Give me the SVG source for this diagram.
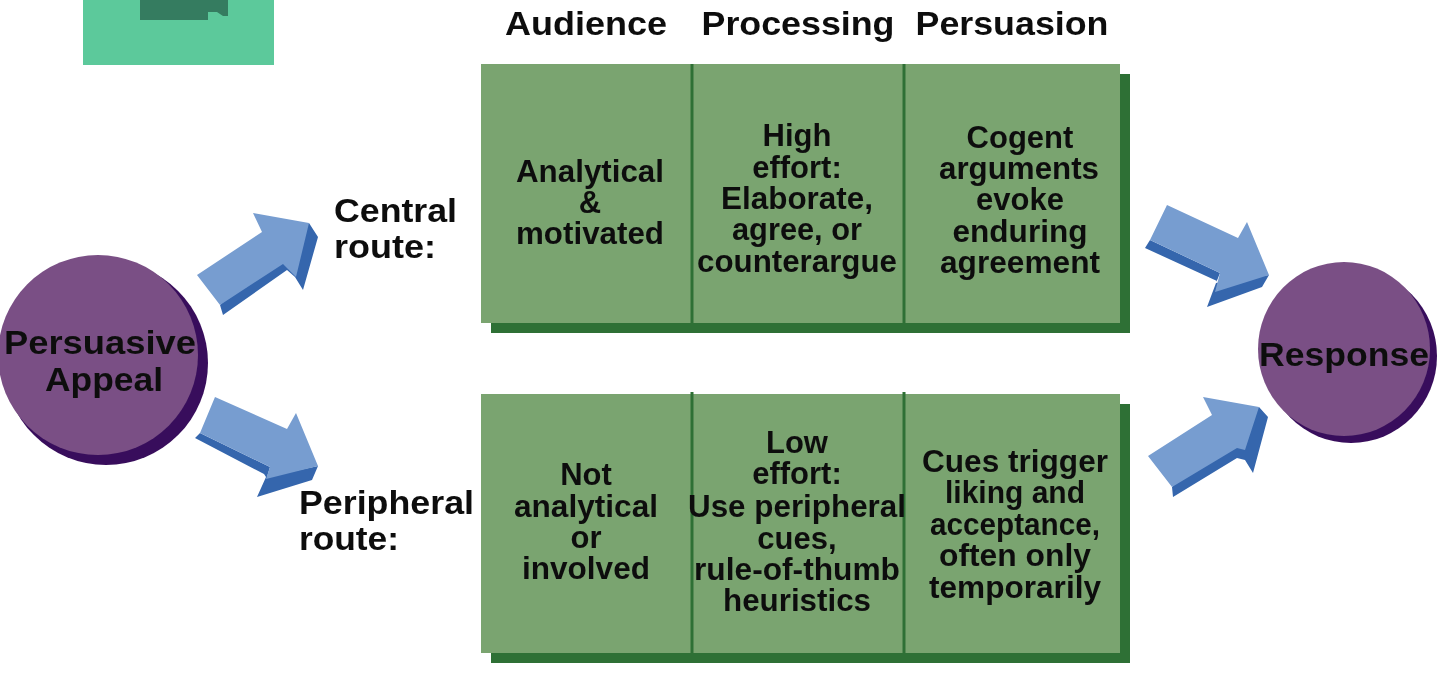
<svg xmlns="http://www.w3.org/2000/svg" width="1440" height="694" viewBox="0 0 1440 694">
<defs><filter id="soft" x="-5%" y="-5%" width="110%" height="110%"><feGaussianBlur stdDeviation="0.7"/></filter></defs>
<style>
text{font-family:"Liberation Sans",Arial,sans-serif;font-weight:700;font-size:31px;fill:#111;text-anchor:middle}
.l{text-anchor:start}
.big{font-size:34px}
.panel{fill:#7aa470}
.shadow{fill:#2e7034}
.div{stroke:#2e7034;stroke-width:3;fill:none}
.al{fill:#779dd0}
.ad{fill:#3566ad}
.cl{fill:#7a5085}
.cd{fill:#39105c}
</style>
<rect width="1440" height="694" fill="#fff"/>
<g filter="url(#soft)">
<g id="legend-box"><rect x="83" y="0" width="191" height="65" fill="#5cc99b"/><path d="M140 0H228V16H223L217 12H208V20H140Z" fill="#347c60"/></g>
<g id="connectors">
<g id="arrow-central"><path class="ad" d="M220 305L223 315L287 270L295 277L303 290L318 237L309 223Z"/><path class="al" d="M197 275L262 232L253 213L309 223L296 277L283 264L220 305Z"/></g>
<g id="arrow-peripheral"><path class="ad" d="M195 438L200 433L270 467L267 477L318 466L312 480L257 497L266 477L264 474Z"/><path class="al" d="M215 397L287 429L296 413L318 466L266 479L270 467L200 433Z"/></g>
<g id="arrow-central-out"><path class="ad" d="M1145 248L1150 240L1220 273L1216 283L1269 275L1262 287L1207 307L1216 283L1217 281Z"/><path class="al" d="M1167 205L1238 238L1247 222L1269 275L1215 292L1220 273L1150 240Z"/></g>
<g id="arrow-peripheral-out"><path class="ad" d="M1172 487L1173 497L1237 458L1245 460L1253 473L1268 417L1259 407Z"/><path class="al" d="M1148 456L1212 415L1203 397L1259 407L1245 450L1237 448L1172 487Z"/></g>
</g>
<g id="persuasive-appeal"><circle class="cd" cx="106" cy="363" r="102"/><circle class="cl" cx="98" cy="355" r="100"/><text class="big" x="100" y="354" textLength="192" lengthAdjust="spacingAndGlyphs">Persuasive</text><text class="big" x="104" y="391" textLength="118" lengthAdjust="spacingAndGlyphs">Appeal</text></g>
<g id="response"><ellipse class="cd" cx="1351" cy="356" rx="86" ry="87"/><ellipse class="cl" cx="1344" cy="349" rx="86" ry="87"/><text class="big" x="1344" y="366" textLength="170" lengthAdjust="spacingAndGlyphs">Response</text></g>
<g id="central-label"><text class="l big" x="334" y="222" textLength="123" lengthAdjust="spacingAndGlyphs">Central</text><text class="l big" x="334" y="258" textLength="102" lengthAdjust="spacingAndGlyphs">route:</text></g>
<g id="peripheral-label"><text class="l big" x="299" y="514" textLength="175" lengthAdjust="spacingAndGlyphs">Peripheral</text><text class="l big" x="299" y="550" textLength="100" lengthAdjust="spacingAndGlyphs">route:</text></g>
<g id="headers"><text class="big" x="586" y="35" textLength="162" lengthAdjust="spacingAndGlyphs">Audience</text><text class="big" x="798" y="35" textLength="193" lengthAdjust="spacingAndGlyphs">Processing</text><text class="big" x="1012" y="35" textLength="193" lengthAdjust="spacingAndGlyphs">Persuasion</text></g>
<g id="central-panel"><rect class="shadow" x="491" y="74" width="639" height="259"/><rect class="panel" x="481" y="64" width="639" height="259"/><path class="div" d="M692 64V323M904 64V323"/>
<text x="590" y="182" textLength="148" lengthAdjust="spacingAndGlyphs">Analytical</text><text x="590" y="213">&amp;</text><text x="590" y="244" textLength="148" lengthAdjust="spacingAndGlyphs">motivated</text>
<text x="797" y="146">High</text><text x="797" y="178">effort:</text><text x="797" y="209" textLength="152" lengthAdjust="spacingAndGlyphs">Elaborate,</text><text x="797" y="240" textLength="130" lengthAdjust="spacingAndGlyphs">agree, or</text><text x="797" y="272" textLength="200" lengthAdjust="spacingAndGlyphs">counterargue</text>
<text x="1020" y="148">Cogent</text><text x="1019" y="179" textLength="160" lengthAdjust="spacingAndGlyphs">arguments</text><text x="1020" y="210">evoke</text><text x="1020" y="242" textLength="135" lengthAdjust="spacingAndGlyphs">enduring</text><text x="1020" y="273" textLength="160" lengthAdjust="spacingAndGlyphs">agreement</text></g>
<g id="peripheral-panel"><rect class="shadow" x="491" y="404" width="639" height="259"/><rect class="panel" x="481" y="394" width="639" height="259"/><path class="div" d="M692 392V653M904 392V653"/>
<text x="586" y="485">Not</text><text x="586" y="517" textLength="144" lengthAdjust="spacingAndGlyphs">analytical</text><text x="586" y="548">or</text><text x="586" y="579" textLength="128" lengthAdjust="spacingAndGlyphs">involved</text>
<text x="797" y="453">Low</text><text x="797" y="484">effort:</text><text x="797" y="517" textLength="218" lengthAdjust="spacingAndGlyphs">Use peripheral</text><text x="797" y="549">cues,</text><text x="797" y="580" textLength="206" lengthAdjust="spacingAndGlyphs">rule-of-thumb</text><text x="797" y="611" textLength="148" lengthAdjust="spacingAndGlyphs">heuristics</text>
<text x="1015" y="472" textLength="186" lengthAdjust="spacingAndGlyphs">Cues trigger</text><text x="1015" y="503" textLength="140" lengthAdjust="spacingAndGlyphs">liking and</text><text x="1015" y="535" textLength="170" lengthAdjust="spacingAndGlyphs">acceptance,</text><text x="1015" y="566" textLength="152" lengthAdjust="spacingAndGlyphs">often only</text><text x="1015" y="598" textLength="172" lengthAdjust="spacingAndGlyphs">temporarily</text></g>
</g>
</svg>
